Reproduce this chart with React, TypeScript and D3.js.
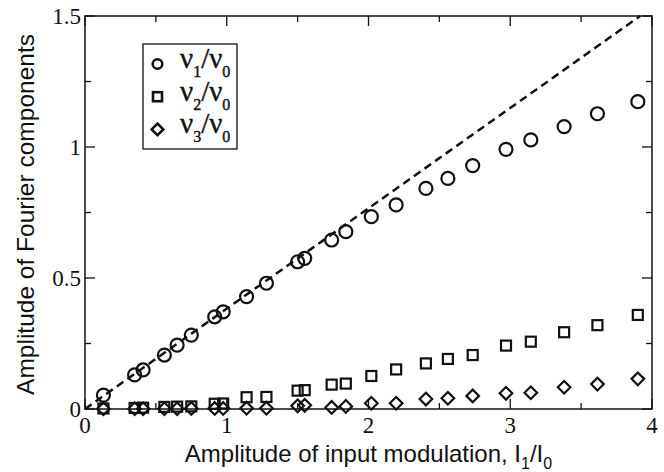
import React from "react";
import * as d3 from "d3";

const xValues = [0.13, 0.35, 0.41, 0.56, 0.65, 0.75, 0.915, 0.975, 1.14, 1.28, 1.5, 1.55, 1.74, 1.84, 2.02, 2.195, 2.405, 2.56, 2.735, 2.97, 3.145, 3.38, 3.615, 3.9];
const nu1 = [0.053, 0.13, 0.149, 0.206, 0.244, 0.282, 0.352, 0.371, 0.429, 0.48, 0.562, 0.575, 0.645, 0.677, 0.734, 0.779, 0.842, 0.88, 0.929, 0.991, 1.027, 1.078, 1.127, 1.173];
const nu2 = [0.002, 0.004, 0.005, 0.008, 0.009, 0.01, 0.02, 0.021, 0.045, 0.046, 0.07, 0.072, 0.093, 0.097, 0.126, 0.151, 0.174, 0.191, 0.206, 0.242, 0.257, 0.293, 0.32, 0.359];
const nu3 = [0.001, 0.001, 0.001, 0.001, 0.001, 0.002, 0.002, 0.002, 0.003, 0.003, 0.012, 0.014, 0.006, 0.01, 0.022, 0.022, 0.038, 0.041, 0.05, 0.06, 0.062, 0.083, 0.095, 0.115];
const lineSlope = 0.383;
const xTicks = [0, 1, 2, 3, 4];
const xMinor = [0.5, 1.5, 2.5, 3.5];
const yTicks = [0, 0.5, 1, 1.5];
const yTickLabels = ["0", "0.5", "1", "1.5"];
const yMinor = [0.25, 0.75, 1.25];

const W = 664, H = 472;
const L = 85, R = 652, T = 16, B = 409;

export default function App() {
  const x = d3.scaleLinear().domain([0, 4]).range([L, R]);
  const y = d3.scaleLinear().domain([0, 1.5]).range([B, T]);
  const xEnd = 1.5 / lineSlope;
  const line = d3.line<number>().x((d) => x(d)).y((d) => y(d * lineSlope));
  const serif = "'Liberation Serif', 'Times New Roman', serif";
  const sans = "'Liberation Sans', Arial, sans-serif";
  const stroke = "#111";
  const circle = (cx: number, cy: number, k: string, r = 6.5, sw = 2.2) => (
    <circle key={k} cx={cx} cy={cy} r={r} fill="none" stroke={stroke} strokeWidth={sw} />
  );
  const square = (cx: number, cy: number, k: string, r = 5, sw = 2.2) => (
    <rect key={k} x={cx - r} y={cy - r} width={2 * r} height={2 * r} fill="none" stroke={stroke} strokeWidth={sw} />
  );
  const diamond = (cx: number, cy: number, k: string, r = 6.3, sw = 2.2) => (
    <path key={k} d={`M${cx},${cy - r}L${cx + r},${cy}L${cx},${cy + r}L${cx - r},${cy}Z`} fill="none" stroke={stroke} strokeWidth={sw} />
  );
  const legendRows = [
    { k: "1", m: (cx: number, cy: number) => circle(cx, cy, "lc", 4.8, 2.6) },
    { k: "2", m: (cx: number, cy: number) => square(cx, cy, "ls", 4.5, 2.6) },
    { k: "3", m: (cx: number, cy: number) => diamond(cx, cy, "ld", 5.8, 2.6) },
  ];
  return (
    <svg width={W} height={H} style={{ position: "absolute", left: 0, top: 0, background: "#fff" }}>
      <rect x={0} y={0} width={W} height={H} fill="#fff" />
      {/* dashed line */}
      <path d={line([0, xEnd]) || ""} fill="none" stroke={stroke} strokeWidth={2.5} strokeDasharray="8,5" />
      {/* data */}
      {xValues.map((v, i) => circle(x(v), y(nu1[i]), "c" + i))}
      {xValues.map((v, i) => square(x(v), y(nu2[i]), "s" + i))}
      {xValues.map((v, i) => diamond(x(v), y(nu3[i]), "d" + i))}
      {/* frame */}
      <rect x={L} y={T} width={R - L} height={B - T} fill="none" stroke={stroke} strokeWidth={1.5} />
      {/* ticks */}
      {xTicks.map((t) => (
        <g key={"xt" + t}>
          <line x1={x(t)} x2={x(t)} y1={B} y2={B - 10} stroke={stroke} strokeWidth={1.3} />
          <line x1={x(t)} x2={x(t)} y1={T} y2={T + 10} stroke={stroke} strokeWidth={1.3} />
          <text x={x(t)} y={433} textAnchor="middle" fontFamily={serif} fontSize={23} fill={stroke}>{t}</text>
        </g>
      ))}
      {xMinor.map((t) => (
        <g key={"xm" + t}>
          <line x1={x(t)} x2={x(t)} y1={B} y2={B - 6} stroke={stroke} strokeWidth={1.3} />
          <line x1={x(t)} x2={x(t)} y1={T} y2={T + 6} stroke={stroke} strokeWidth={1.3} />
        </g>
      ))}
      {yTicks.map((t, i) => (
        <g key={"yt" + t}>
          <line x1={L} x2={L + 10} y1={y(t)} y2={y(t)} stroke={stroke} strokeWidth={1.3} />
          <line x1={R} x2={R - 10} y1={y(t)} y2={y(t)} stroke={stroke} strokeWidth={1.3} />
          <text x={81} y={y(t) + 7.5} textAnchor="end" fontFamily={serif} fontSize={23} fill={stroke}>{yTickLabels[i]}</text>
        </g>
      ))}
      {yMinor.map((t) => (
        <g key={"ym" + t}>
          <line x1={L} x2={L + 6} y1={y(t)} y2={y(t)} stroke={stroke} strokeWidth={1.3} />
          <line x1={R} x2={R - 6} y1={y(t)} y2={y(t)} stroke={stroke} strokeWidth={1.3} />
        </g>
      ))}
      {/* axis titles */}
      <text x={(L + R) / 2} y={462} textAnchor="middle" fontFamily={sans} fontSize={24} fill={stroke}>
        Amplitude of input modulation, I<tspan dy={7} fontSize={16}>1</tspan><tspan dy={-7}>/I</tspan><tspan dy={7} fontSize={16}>0</tspan>
      </text>
      <text transform={`translate(34,${(T + B) / 2 + 2}) rotate(-90)`} textAnchor="middle" fontFamily={sans} fontSize={24.5} fill={stroke}>
        Amplitude of Fourier components
      </text>
      {/* legend */}
      <rect x={143} y={44} width={94} height={105} fill="#fff" stroke={stroke} strokeWidth={1.3} />
      {legendRows.map((r, i) => {
        const cy = 64 + i * 32.7;
        return (
          <g key={"lg" + r.k}>
            {r.m(157.5, cy)}
            <text x={180} y={cy + 4} fontFamily={serif} fontSize={29} fill={stroke} stroke={stroke} strokeWidth={0.4}>
              ν<tspan dy={9} fontSize={16}>{r.k}</tspan><tspan dy={-9}>/ν</tspan><tspan dy={9} fontSize={16}>0</tspan>
            </text>
          </g>
        );
      })}
    </svg>
  );
}
